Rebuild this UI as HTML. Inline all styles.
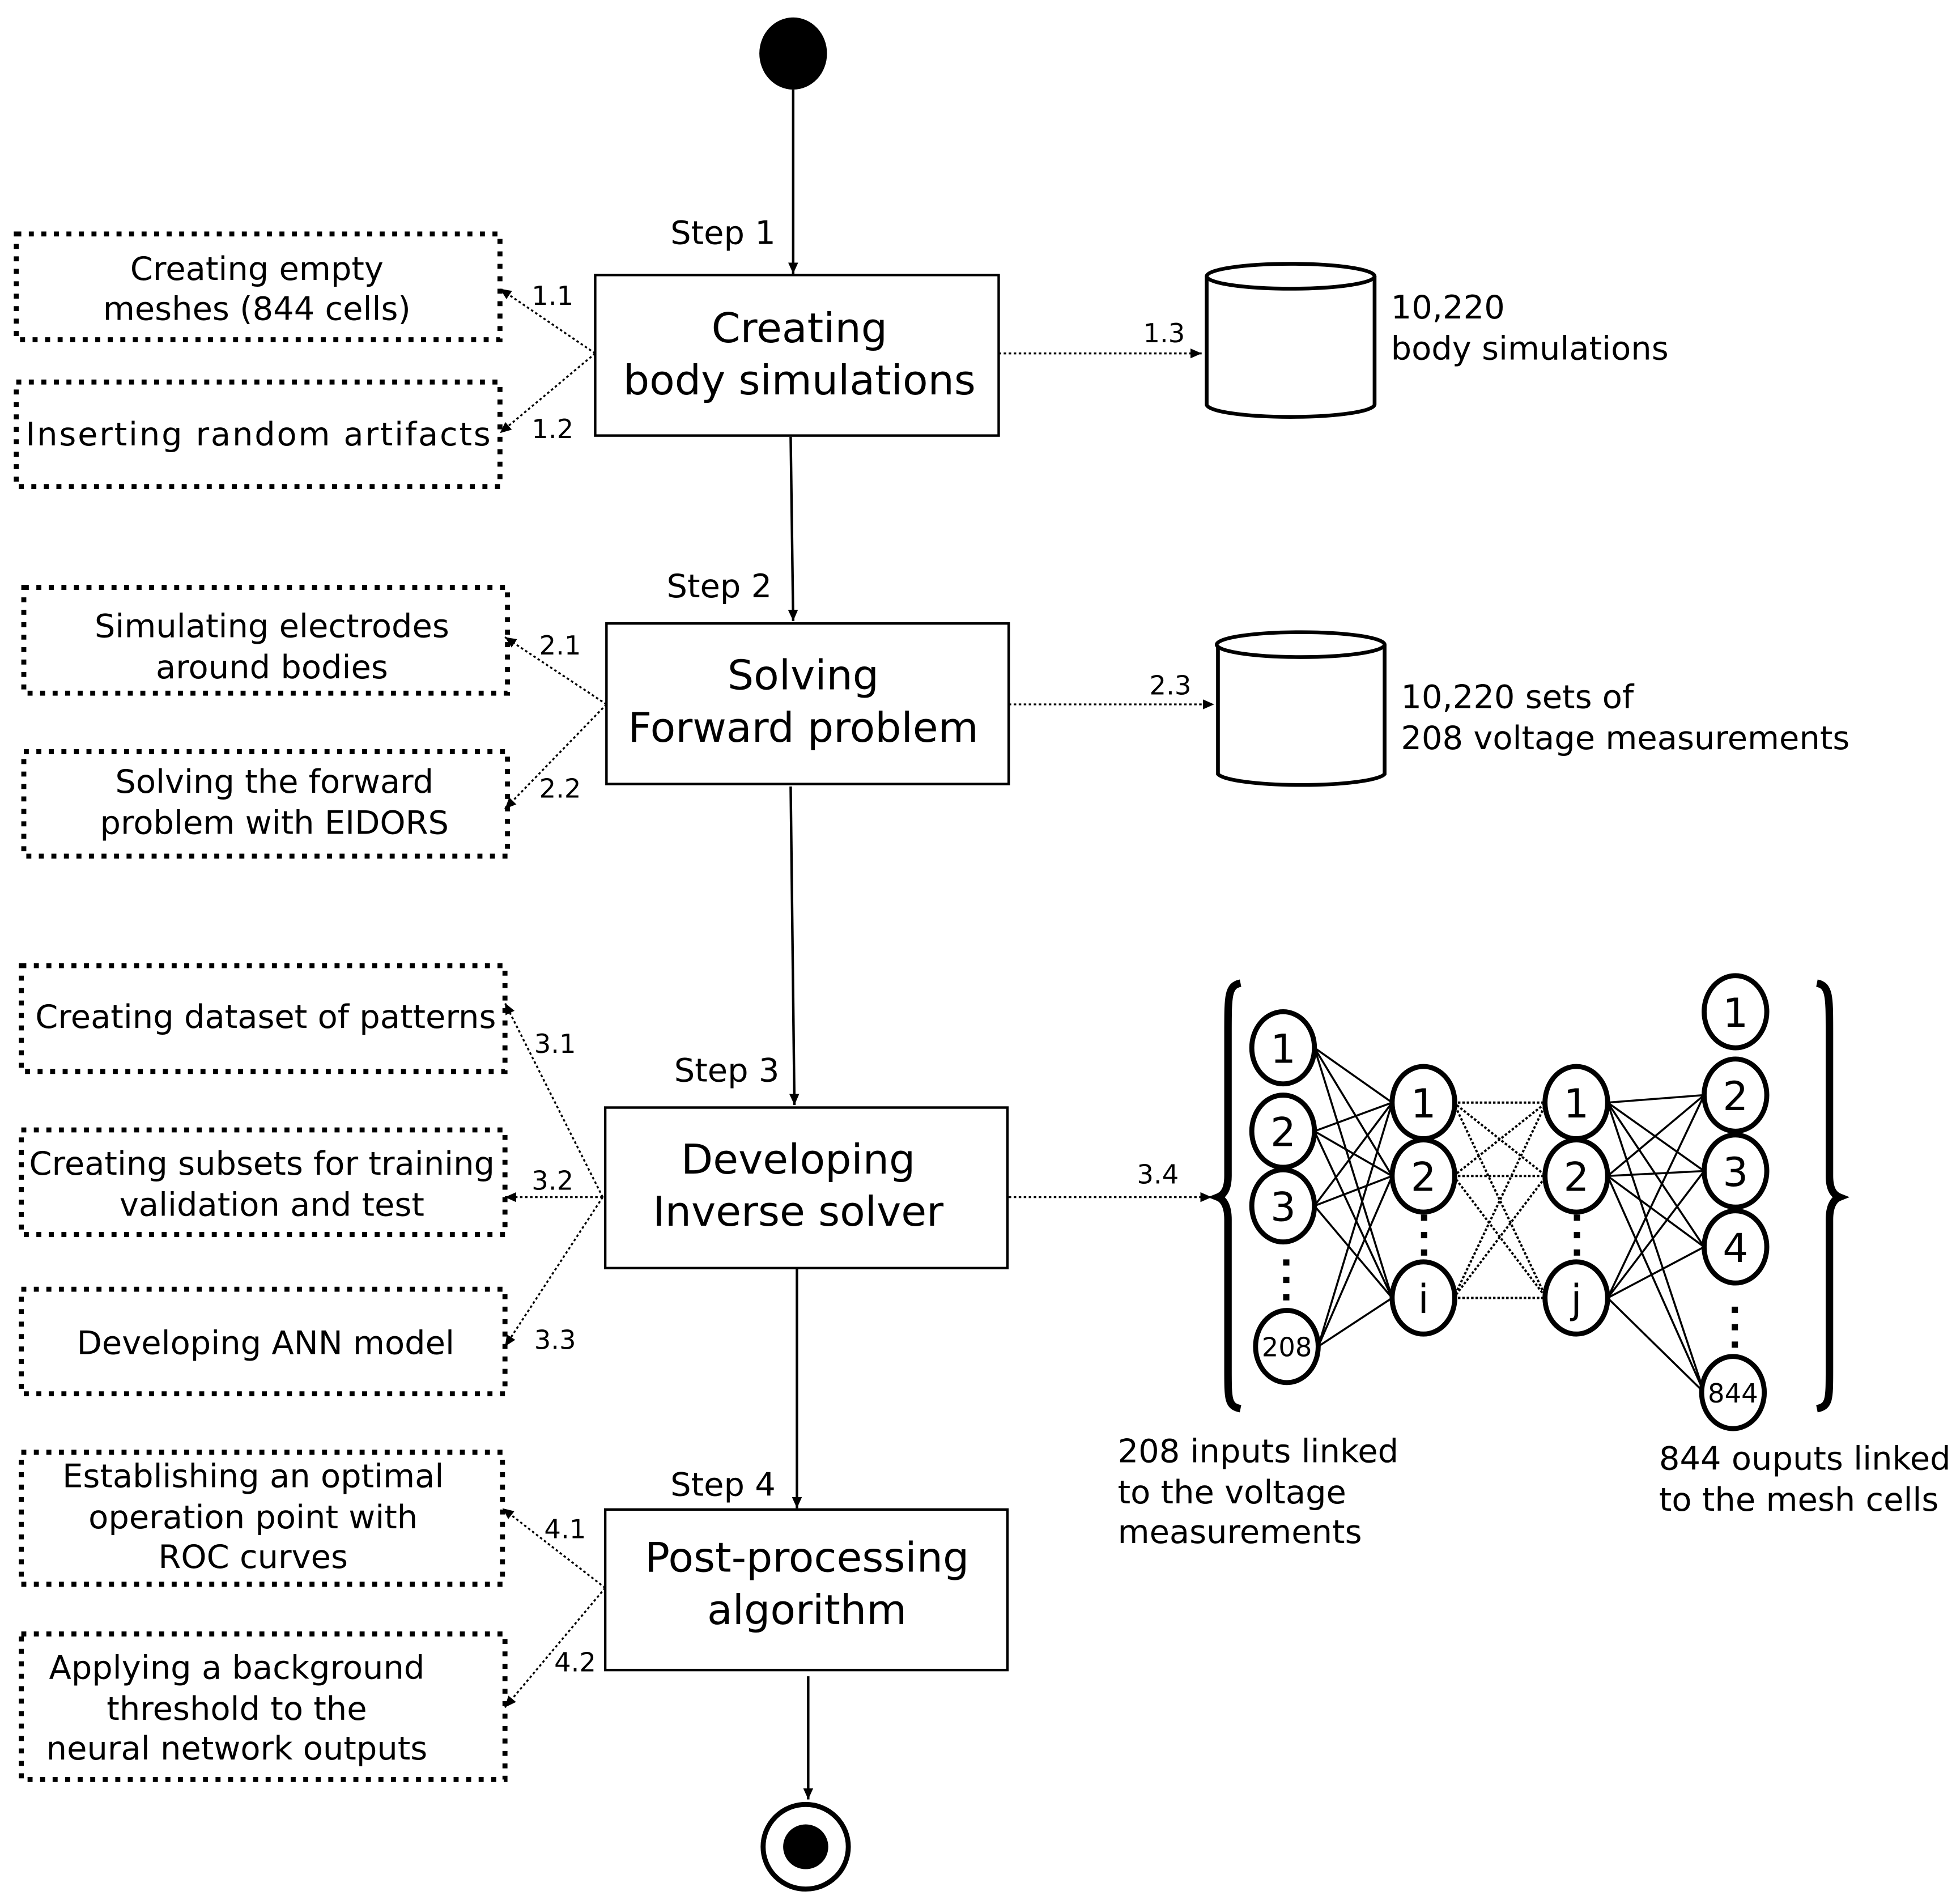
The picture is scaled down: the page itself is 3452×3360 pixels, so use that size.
<!DOCTYPE html>
<html><head><style>html,body{margin:0;padding:0;background:#fff}svg{display:block}
text{font-family:"DejaVu Sans","Liberation Sans",sans-serif;fill:#000}</style></head>
<body>
<svg width="3452" height="3360" viewBox="0 0 1561 1530" preserveAspectRatio="none" xmlns="http://www.w3.org/2000/svg">
<defs>
<marker id="a" markerWidth="10" markerHeight="10" refX="9" refY="5" orient="auto" markerUnits="userSpaceOnUse"><path d="M0,1 L9,5 L0,9 z" fill="#000"/></marker>
</defs>
<g transform="translate(-3,0)">
<g stroke="#000" fill="none">
<line x1="636" y1="72" x2="636" y2="220" stroke-width="2" marker-end="url(#a)"/>
<line x1="634" y1="351" x2="636" y2="499" stroke-width="2" marker-end="url(#a)"/>
<line x1="634" y1="632" x2="637" y2="888" stroke-width="2" marker-end="url(#a)"/>
<line x1="639" y1="1020" x2="639" y2="1212" stroke-width="2" marker-end="url(#a)"/>
<line x1="648" y1="1347" x2="648" y2="1446" stroke-width="2" marker-end="url(#a)"/>
<rect x="478" y="221" width="322" height="129" stroke-width="2"/>
<rect x="487" y="501" width="321" height="129" stroke-width="2"/>
<rect x="486" y="890" width="321" height="129" stroke-width="2"/>
<rect x="486" y="1213" width="321" height="129" stroke-width="2"/>
<g stroke-width="4" stroke-dasharray="4,6">
<rect x="16" y="188" width="386" height="85"/>
<rect x="16" y="307" width="386" height="84"/>
<rect x="22" y="472" width="386" height="85"/>
<rect x="22" y="604" width="386" height="84"/>
<rect x="20" y="776" width="386" height="85"/>
<rect x="20" y="908" width="386" height="84"/>
<rect x="20" y="1036" width="386" height="84"/>
<rect x="20" y="1167" width="384" height="106"/>
<rect x="20" y="1313" width="386" height="117"/>
</g>
<g stroke-width="1.5" stroke-dasharray="2,2">
<line x1="478" y1="284" x2="402" y2="232" marker-end="url(#a)"/>
<line x1="478" y1="284" x2="402" y2="348" marker-end="url(#a)"/>
<line x1="800" y1="284" x2="962" y2="284" marker-end="url(#a)"/>
<line x1="487" y1="566" x2="406" y2="512" marker-end="url(#a)"/>
<line x1="487" y1="566" x2="406" y2="650" marker-end="url(#a)"/>
<line x1="808" y1="566" x2="972" y2="566" marker-end="url(#a)"/>
<line x1="484" y1="962" x2="406" y2="806" marker-end="url(#a)"/>
<line x1="484" y1="962" x2="406" y2="962" marker-end="url(#a)"/>
<line x1="484" y1="962" x2="406" y2="1082" marker-end="url(#a)"/>
<line x1="808" y1="962" x2="970" y2="962" marker-end="url(#a)"/>
<line x1="486" y1="1276" x2="404" y2="1212" marker-end="url(#a)"/>
<line x1="486" y1="1276" x2="406" y2="1372" marker-end="url(#a)"/>
</g>
<g stroke-width="3" fill="#fff">
<path d="M966,222 L966,325 A67,10 0 0 0 1100,325 L1100,222"/>
<ellipse cx="1033" cy="222" rx="67" ry="10"/>
<path d="M975,518 L975,622 A67,10 0 0 0 1108,622 L1108,518"/>
<ellipse cx="1041" cy="518" rx="67" ry="10"/>
</g>
<g stroke-width="1.6">
<path d="M1052,842 L1114,886 M1052,842 L1114,945 M1052,842 L1114,1043
M1052,909 L1114,886 M1052,909 L1114,945 M1052,909 L1114,1043
M1052,969 L1114,886 M1052,969 L1114,945 M1052,969 L1114,1043
M1055,1082 L1114,886 M1055,1082 L1114,945 M1055,1082 L1114,1043"/>
<path d="M1286,886 L1363,880 M1286,886 L1363,941 M1286,886 L1363,1002 M1286,886 L1363,1119
M1286,945 L1363,880 M1286,945 L1363,941 M1286,945 L1363,1002 M1286,945 L1363,1119
M1286,1043 L1363,880 M1286,1043 L1363,941 M1286,1043 L1363,1002 M1286,1043 L1363,1119"/>
</g>
<g stroke-width="1.8" stroke-dasharray="2,1.5">
<path d="M1163,886 L1237,886 M1163,886 L1237,945 M1163,886 L1237,1043
M1163,945 L1237,886 M1163,945 L1237,945 M1163,945 L1237,1043
M1163,1043 L1237,886 M1163,1043 L1237,945 M1163,1043 L1237,1043"/>
</g>
<g stroke-width="4" fill="#fff">
<ellipse cx="1027" cy="842" rx="25" ry="29"/>
<ellipse cx="1027" cy="909" rx="25" ry="29"/>
<ellipse cx="1027" cy="969" rx="25" ry="29"/>
<ellipse cx="1030" cy="1082" rx="25" ry="29"/>
<ellipse cx="1139" cy="886" rx="25" ry="29"/>
<ellipse cx="1139" cy="945" rx="25" ry="29"/>
<ellipse cx="1139" cy="1043" rx="25" ry="29"/>
<ellipse cx="1261" cy="886" rx="25" ry="29"/>
<ellipse cx="1261" cy="945" rx="25" ry="29"/>
<ellipse cx="1261" cy="1043" rx="25" ry="29"/>
<ellipse cx="1388" cy="813" rx="25" ry="29"/>
<ellipse cx="1388" cy="880" rx="25" ry="29"/>
<ellipse cx="1388" cy="941" rx="25" ry="29"/>
<ellipse cx="1388" cy="1002" rx="25" ry="29"/>
<ellipse cx="1386" cy="1119" rx="25" ry="29"/>
</g>
<path d="M993,790 C983,792 983,800 983,830 L983,945 C983,955 980,960 975,962 C980,964 983,970 983,980 L983,1100 C983,1125 983,1130 993,1132" stroke-width="6"/>
<path d="M1453,790 C1463,792 1463,800 1463,830 L1463,945 C1463,955 1466,960 1471,962 C1466,964 1463,970 1463,980 L1463,1100 C1463,1125 1463,1130 1453,1132" stroke-width="6"/>
<circle cx="646" cy="1484" r="34" stroke-width="4" fill="#fff"/>
</g>
<ellipse cx="636" cy="43" rx="27" ry="29" fill="#000"/>
<circle cx="646" cy="1484" r="18" fill="#000"/>
<g fill="#000">
<rect x="1027" y="1012" width="5" height="5"/><rect x="1027" y="1026" width="5" height="5"/><rect x="1027" y="1040" width="5" height="5"/>
<rect x="1137" y="976" width="5" height="5"/><rect x="1137" y="990" width="5" height="5"/><rect x="1137" y="1004" width="5" height="5"/>
<rect x="1259" y="976" width="5" height="5"/><rect x="1259" y="990" width="5" height="5"/><rect x="1259" y="1004" width="5" height="5"/>
<rect x="1385" y="1050" width="5" height="5"/><rect x="1385" y="1064" width="5" height="5"/><rect x="1385" y="1078" width="5" height="5"/>
</g>
<g font-size="32" text-anchor="middle">
<text x="1027" y="854">1</text><text x="1027" y="921">2</text><text x="1027" y="981">3</text>
<text x="1139" y="898">1</text><text x="1139" y="957">2</text><text x="1139" y="1055">i</text>
<text x="1261" y="898">1</text><text x="1261" y="957">2</text><text x="1261" y="1055">j</text>
<text x="1388" y="825">1</text><text x="1388" y="892">2</text><text x="1388" y="953">3</text><text x="1388" y="1014">4</text>
</g>
<text x="1030" y="1090" font-size="21" text-anchor="middle">208</text>
<text x="1386" y="1127" font-size="21" text-anchor="middle">844</text>
<g font-size="33" text-anchor="middle">
<text x="641" y="275">Creating</text><text x="641" y="317">body simulations</text>
<text x="644" y="554">Solving</text><text x="644" y="596">Forward problem</text>
<text x="640" y="943">Developing</text><text x="640" y="985">Inverse solver</text>
<text x="647" y="1263">Post-processing</text><text x="647" y="1305">algorithm</text>
</g>
<g font-size="26" text-anchor="middle">
<text x="580" y="196">Step 1</text><text x="577" y="480">Step 2</text><text x="583" y="869">Step 3</text><text x="580" y="1202">Step 4</text>
<text x="208" y="225">Creating empty</text><text x="208" y="257">meshes (844  cells)</text>
<text x="209" y="358" textLength="371" lengthAdjust="spacing">Inserting random artifacts</text>
<text x="220" y="512">Simulating electrodes</text><text x="220" y="545">around bodies</text>
<text x="222" y="637">Solving the forward</text><text x="222" y="670">problem with EIDORS</text>
<text x="215" y="826">Creating dataset of patterns</text>
<text x="212" y="944">Creating subsets for training</text><text x="220" y="977">validation and test</text>
<text x="215" y="1088">Developing ANN model</text>
<text x="205" y="1195">Establishing an optimal</text><text x="205" y="1228">operation point with</text><text x="205" y="1260">ROC curves</text>
<text x="192" y="1349">Applying a background</text><text x="192" y="1382">threshold to the</text><text x="192" y="1414">neural network outputs</text>
</g>
<g font-size="26">
<text x="1113" y="256">10,220</text><text x="1113" y="289">body simulations</text>
<text x="1121" y="569">10,220 sets of</text><text x="1121" y="602">208 voltage measurements</text>
<text x="895" y="1175">208 inputs linked</text><text x="895" y="1208">to the voltage</text><text x="895" y="1240">measurements</text>
<text x="1327" y="1181">844 ouputs linked</text><text x="1327" y="1214">to the mesh cells</text>
</g>
<g font-size="21" text-anchor="middle">
<text x="444" y="245">1.1</text><text x="444" y="352">1.2</text><text x="932" y="275">1.3</text>
<text x="450" y="526">2.1</text><text x="450" y="641">2.2</text><text x="937" y="558">2.3</text>
<text x="446" y="846">3.1</text><text x="444" y="956">3.2</text><text x="446" y="1084">3.3</text><text x="927" y="951">3.4</text>
<text x="454" y="1236">4.1</text><text x="462" y="1343">4.2</text>
</g>
</g>
</svg>
</body></html>
